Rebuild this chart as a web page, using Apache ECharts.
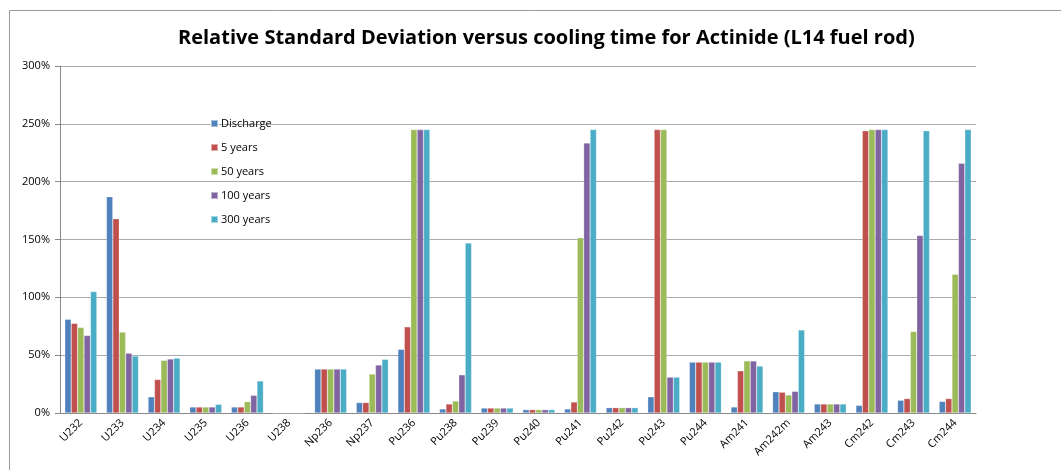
<!DOCTYPE html>
<html>
<head>
<meta charset="utf-8">
<script src="https://cdn.jsdelivr.net/npm/echarts@6/dist/echarts.min.js"></script>
<style>
  html, body { margin: 0; padding: 0; background: #fff; }
  #chart { width: 1061px; height: 470px; }
</style>
</head>
<body>
<div id="chart"></div>
<script>
// isotopes on the x axis
const isotopes = ['U232', 'U233', 'U234', 'U235', 'U236', 'U238', 'Np236', 'Np237', 'Pu236', 'Pu238', 'Pu239',
  'Pu240', 'Pu241', 'Pu242', 'Pu243', 'Pu244', 'Am241', 'Am242m', 'Am243', 'Cm242', 'Cm243', 'Cm244'];
const yTicks = [0, 50, 100, 150, 200, 250, 300];

// relative standard deviation, percent
const discharge = [81, 187, 14, 5.2, 5.2, 0, 38, 9, 55, 3.5, 4.3, 2.9, 3.5, 4.6, 14, 44, 5.2, 18.4, 7.8, 6.6, 11, 10];
const years5 = [77.5, 168, 29, 5.2, 5.2, 0, 38, 9, 74.5, 7.8, 4.3, 2.9, 9.5, 4.6, 245, 44, 36.5, 18, 7.8, 244, 12.5, 12.5];
const years50 = [74, 70, 45.5, 5.2, 9.8, 0, 38, 33.7, 245, 10.4, 4.3, 2.9, 151.5, 4.6, 245, 44, 45, 15.6, 7.8, 245, 70.5, 120];
const years100 = [67, 51.7, 46.7, 5.2, 15.3, 0, 38, 41.5, 245, 33, 4.3, 2.9, 233.5, 4.6, 31, 44, 45, 18.7, 7.8, 245, 153.5, 216];
const years300 = [105, 49.3, 47.5, 7.5, 27.7, 0, 38, 46.4, 245, 147, 4.3, 2.9, 245, 4.6, 31, 44, 40.6, 71.8, 7.8, 245, 244, 245];

const seriesNames = ['Discharge', '5 years', '50 years', '100 years', '300 years'];
const seriesData = [discharge, years5, years50, years100, years300];
const colors = ['#4f81bd', '#c0504d', '#9bbb59', '#8064a2', '#4bacc6'];

const font = '"Open Sans", "Noto Sans", sans-serif';

const chart = echarts.init(document.getElementById('chart'));
chart.setOption({
  animation: false,
  color: colors,
  textStyle: { fontFamily: font },
  title: {
    text: 'Relative Standard Deviation versus cooling time for Actinide (L14 fuel rod)',
    left: 173,
    top: 23,
    textStyle: { fontSize: 20, fontWeight: 'bold', color: '#000', fontFamily: font }
  },
  legend: {
    orient: 'vertical',
    left: 205,
    top: 113,
    icon: 'rect',
    itemWidth: 7,
    itemHeight: 7,
    itemGap: 13,
    textStyle: { fontSize: 11, color: '#000', padding: [0, 0, 0, -2] },
    data: seriesNames
  },
  graphic: [{
    type: 'rect',
    shape: { x: 9.5, y: 10.5, width: 1100, height: 600 },
    style: { fill: 'none', stroke: '#9a9a9a', lineWidth: 1 },
    silent: true
  }],
  grid: { left: 60, right: 85, top: 66, bottom: 57 },
  xAxis: {
    type: 'category',
    data: isotopes,
    axisLine: { lineStyle: { color: '#888' } },
    axisTick: { interval: 0, length: 5, lineStyle: { color: '#888' } },
    axisLabel: { interval: 0, rotate: 45, fontSize: 11, color: '#000', margin: 8 }
  },
  yAxis: {
    type: 'value',
    min: yTicks[0],
    max: yTicks[yTicks.length - 1],
    interval: yTicks[1] - yTicks[0],
    axisLine: { show: true, lineStyle: { color: '#888' } },
    axisTick: { show: true, length: 5, lineStyle: { color: '#888' } },
    axisLabel: { formatter: '{value}%', fontSize: 11, color: '#000', margin: 10 },
    splitLine: { lineStyle: { color: '#ababab' } }
  },
  series: seriesNames.map((name, i) => ({
    name: name,
    type: 'bar',
    data: seriesData[i],
    barGap: '0%',
    barCategoryGap: '23%',
    itemStyle: { borderColor: 'rgba(255,255,255,0.5)', borderWidth: 0.5 }
  }))
});
</script>
</body>
</html>
